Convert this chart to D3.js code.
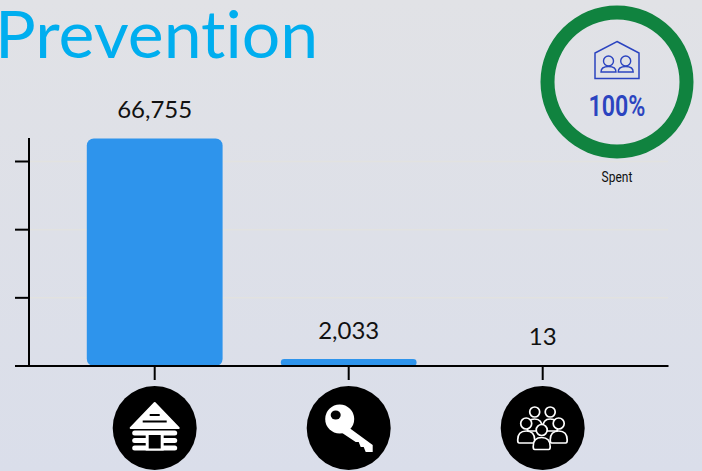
<!DOCTYPE html>
<html>
<head>
<meta charset="utf-8">
<script src="https://cdn.jsdelivr.net/npm/d3@7"></script>
<style>
  html, body { margin: 0; padding: 0; overflow: hidden; }
  svg { display: block; }
</style>
</head>
<body>
<div id="chart"></div>
<script>
var categories = ['Cabin', 'Key', 'People'];
var values = [66755, 2033, 13];
var yTicks = [0, 20000, 40000, 60000];
var spentPct = [100];
var spentLabel = 'Spent';
var chartTitle = 'Prevention';

var width = 702;
var height = 471;
var baseY = 366;
var ink = '#000';
var blue = '#2e94ec';
var indigo = '#2b44c0';

var svg = d3.select('#chart').append('svg')
  .attr('width', width)
  .attr('height', height);

var grad = svg.append('defs').append('linearGradient')
  .attr('id', 'bg')
  .attr('x1', 0).attr('y1', 0).attr('x2', 0).attr('y2', 1);
grad.append('stop').attr('offset', '0%').attr('stop-color', '#e1e2e6');
grad.append('stop').attr('offset', '100%').attr('stop-color', '#dadeea');

svg.append('rect')
  .attr('width', width)
  .attr('height', height)
  .attr('fill', 'url(#bg)');

var x = d3.scaleBand()
  .domain(categories)
  .range([57.7, 639.7])
  .paddingInner(0.3)
  .paddingOuter(0.15);

var y = d3.scaleLinear()
  .domain([0, 60000])
  .range([baseY, 161.5]);

// gridlines
svg.append('g')
  .selectAll('line')
  .data(yTicks.slice(1))
  .enter().append('line')
  .attr('x1', 29)
  .attr('x2', 668)
  .attr('y1', function(d){ return y(d); })
  .attr('y2', function(d){ return y(d); })
  .attr('stroke', '#e2e2e0')
  .attr('stroke-width', 1.5);

// bars
svg.append('g')
  .selectAll('rect')
  .data(values)
  .enter().append('rect')
  .attr('x', function(d, i){ return x(categories[i]); })
  .attr('y', function(d){ return y(d); })
  .attr('width', x.bandwidth())
  .attr('height', function(d){ return baseY - y(d); })
  .attr('rx', function(d){ return Math.min(7, (baseY - y(d)) / 2); })
  .attr('fill', blue);

// axes
var yAxis = d3.axisLeft(y)
  .tickValues(yTicks)
  .tickSize(14)
  .offset(0)
  .tickFormat('');
var yG = svg.append('g')
  .attr('transform', 'translate(29,0)')
  .call(yAxis);
yG.select('.domain').remove();
yG.selectAll('.tick line').attr('stroke', ink).attr('stroke-width', 2);

svg.append('line')
  .attr('x1', 29).attr('x2', 29)
  .attr('y1', 138).attr('y2', baseY + 1)
  .attr('stroke', ink).attr('stroke-width', 2);

var xAxis = d3.axisBottom(x)
  .tickSize(14)
  .offset(0)
  .tickFormat('');
var xG = svg.append('g')
  .attr('transform', 'translate(0,' + baseY + ')')
  .call(xAxis);
xG.select('.domain').remove();
xG.selectAll('.tick line').attr('stroke', ink).attr('stroke-width', 2);

svg.append('line')
  .attr('x1', 15).attr('x2', 668.5)
  .attr('y1', baseY).attr('y2', baseY)
  .attr('stroke', ink).attr('stroke-width', 2);

// value labels
svg.append('g')
  .selectAll('text')
  .data(values)
  .enter().append('text')
  .attr('x', function(d, i){ return x(categories[i]) + x.bandwidth() / 2; })
  .attr('y', function(d){ return y(d) - 20.5; })
  .attr('text-anchor', 'middle')
  .attr('font-family', 'Lato')
  .attr('font-size', 24)
  .attr('fill', '#111')
  .text(function(d){ return d3.format(',')(d); });

svg.append('text')
  .attr('transform', 'translate(-5,57.5) scale(1.03,1)')
  .attr('font-family', 'Lato')
  .attr('font-weight', 400)
  .attr('font-size', 66)
  .style('font-variant-ligatures', 'none')
  .attr('fill', '#00aeef')
  .text(chartTitle);

// category icons, drawn around the centre of each black disc
var icons = {
  Cabin: function(g){
    g.append('path')
      .attr('d', 'M0,-25 L24,0 L-24,0 Z')
      .attr('fill', '#fff').attr('stroke', '#fff').attr('stroke-width', 2).attr('stroke-linejoin', 'round');
    g.append('path')
      .attr('d', 'M-5,-13 H5 M-12,-6.5 H12')
      .attr('stroke', ink).attr('stroke-width', 1.8);
    [5, 12.5, 20].forEach(function(ly){
      g.append('line')
        .attr('x1', -20).attr('x2', 20)
        .attr('y1', ly).attr('y2', ly)
        .attr('stroke', '#fff').attr('stroke-width', 5).attr('stroke-linecap', 'round');
    });
    g.append('rect')
      .attr('x', -9).attr('y', 3).attr('width', 18).attr('height', 19.5)
      .attr('fill', '#fff');
    g.append('rect')
      .attr('x', -6).attr('y', 7).attr('width', 12).attr('height', 13.5)
      .attr('fill', ink);
  },
  Key: function(g){
    g.append('circle').attr('cx', -9).attr('cy', -9).attr('r', 14.5).attr('fill', '#fff');
    g.append('path')
      .attr('d', 'M-2,-2 L24,17 L24,24 L17,24 L15,19 L12,19 L10,14 L7,14 L-8,4 Z')
      .attr('fill', '#fff');
    g.append('ellipse').attr('cx', -13).attr('cy', -13).attr('rx', 5).attr('ry', 4.5).attr('fill', ink);
  },
  People: function(g){
    var folks = [[-8, -16, 5, 7.5], [7.5, -16, 5, 7.5], [-16.5, -4.5, 5.5, 8.5], [16, -4.5, 5.5, 8.5], [-1, 2, 5.5, 8.5]];
    folks.forEach(function(p){
      var px = p[0], py = p[1], r = p[2], w = p[3];
      g.append('path')
        .attr('d', 'M' + (px - w + 1.5) + ',' + (py + r + 14) +
          ' Q' + (px - w) + ',' + (py + r + 14) + ' ' + (px - w) + ',' + (py + r + 11) +
          ' Q' + (px - w) + ',' + (py + r + 2) + ' ' + px + ',' + (py + r + 2) +
          ' Q' + (px + w) + ',' + (py + r + 2) + ' ' + (px + w) + ',' + (py + r + 11) +
          ' Q' + (px + w) + ',' + (py + r + 14) + ' ' + (px + w - 1.5) + ',' + (py + r + 14) + ' Z')
        .attr('fill', ink).attr('stroke', '#fff').attr('stroke-width', 1.7).attr('stroke-linejoin', 'round');
      g.append('circle')
        .attr('cx', px).attr('cy', py).attr('r', r)
        .attr('fill', ink).attr('stroke', '#fff').attr('stroke-width', 1.7);
    });
  }
};

categories.forEach(function(c){
  var g = svg.append('g')
    .attr('transform', 'translate(' + (x(c) + x.bandwidth() / 2) + ',428)');
  g.append('circle').attr('r', 42).attr('fill', ink);
  icons[c](g);
});

// spent gauge
var gauge = svg.append('g').attr('transform', 'translate(617,82)');
var arc = d3.arc().innerRadius(62.5).outerRadius(76.5);
gauge.selectAll('path.ring')
  .data(d3.pie().sort(null)([spentPct[0], 100 - spentPct[0]]))
  .enter().append('path')
  .attr('class', 'ring')
  .attr('d', arc)
  .attr('fill', '#10833f');

gauge.append('path')
  .attr('d', 'M0,-40.5 L22,-29 V-3.5 H-22 V-29 Z')
  .attr('fill', 'none').attr('stroke', indigo).attr('stroke-width', 1.5);
[-8.5, 8.7].forEach(function(px){
  gauge.append('circle')
    .attr('cx', px).attr('cy', -21).attr('r', 5)
    .attr('fill', 'none').attr('stroke', indigo).attr('stroke-width', 1.4);
  gauge.append('path')
    .attr('d', 'M' + (px - 7.5) + ',-10 Q' + (px - 7.5) + ',-15.5 ' + px + ',-15.5 Q' + (px + 7.5) + ',-15.5 ' + (px + 7.5) + ',-10 Z')
    .attr('fill', 'none').attr('stroke', indigo).attr('stroke-width', 1.4);
});

gauge.append('text')
  .attr('transform', 'translate(0,33.5) scale(0.8,1)')
  .attr('text-anchor', 'middle')
  .attr('font-family', 'Roboto')
  .attr('font-weight', 600)
  .attr('font-size', 29)
  .attr('fill', indigo)
  .text(spentPct[0] + '%');

svg.append('text')
  .attr('transform', 'translate(617,182) scale(0.8,1)')
  .attr('text-anchor', 'middle')
  .attr('font-family', 'Roboto')
  .attr('font-size', 15)
  .attr('fill', '#111')
  .text(spentLabel);
</script>
</body>
</html>
